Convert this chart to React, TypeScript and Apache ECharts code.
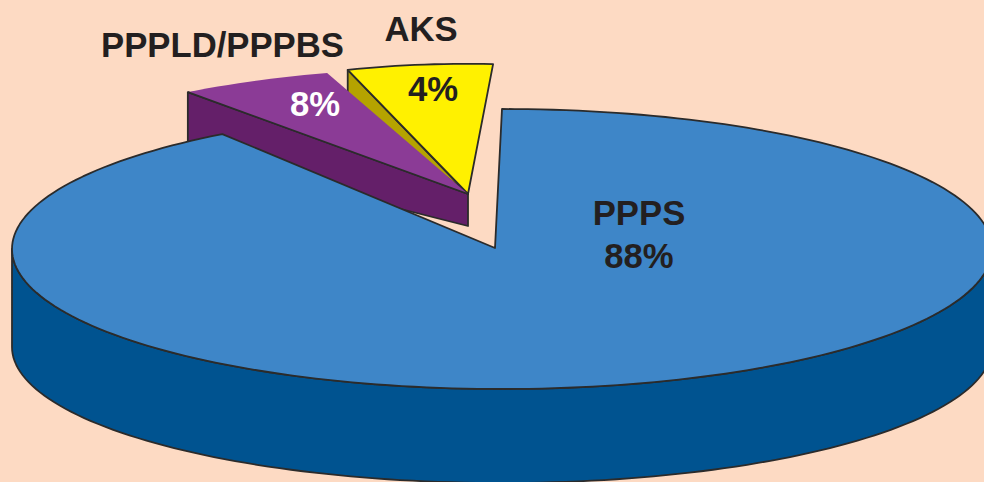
import React, { useEffect, useRef } from "react";
import * as echarts from "echarts";

// ---- chart data (drawn back to front) ----
const categories = ["AKS", "PPPLD/PPPBS", "PPPS"];
const shares = [4, 8, 88];

// ---- layout and styling of each slice ----
const W = 984;
const H = 482;
const FONT = '"Liberation Sans", Arial, sans-serif';
const INK = "#231F20";
const EDGE = "#2B2B2B";
const EDGE_WIDTH = 1.8;

type SliceLayout = {
  apex: [number, number];
  centre: [number, number];
  rx: number;
  ry: number;
  ryBottom: number;
  startDeg: number; // measured clockwise from the top of the ellipse
  perspective: number; // the source drawing distorts the sweep of each slice
  top: string;
  side: string;
  wall: "rim" | "radial";
  depthApex: number;
  depthRim: number;
  outline: "closed" | "radial";
  labels: { kind: "name" | "value"; x: number; y: number; fill: string }[];
};

const sliceLayouts: SliceLayout[] = [
  {
    apex: [468, 194],
    centre: [468, 194],
    rx: 400,
    ry: 130.2,
    ryBottom: 130.2,
    startDeg: -17.5,
    perspective: 1.465,
    top: "#FFF100",
    side: "#B5A300",
    wall: "radial",
    depthApex: 0,
    depthRim: 30,
    outline: "closed",
    labels: [
      { kind: "name", x: 421, y: 29, fill: INK },
      { kind: "value", x: 433, y: 89, fill: INK },
    ],
  },
  {
    apex: [468, 194],
    centre: [468, 194],
    rx: 471,
    ry: 126.8,
    ryBottom: 126.8,
    startDeg: -36.5,
    perspective: 0.663,
    top: "#8B3B96",
    side: "#641F69",
    wall: "radial",
    depthApex: 32,
    depthRim: 63,
    outline: "radial",
    labels: [
      { kind: "name", x: 222.5, y: 45, fill: INK },
      { kind: "value", x: 315, y: 104, fill: "#FFFFFF" },
    ],
  },
  {
    apex: [495, 248],
    centre: [502, 249],
    rx: 490,
    ry: 140,
    ryBottom: 136,
    startDeg: 0,
    perspective: 1.0265,
    top: "#3E86C8",
    side: "#005390",
    wall: "rim",
    depthApex: 98,
    depthRim: 98,
    outline: "closed",
    labels: [
      { kind: "name", x: 639, y: 213, fill: INK },
      { kind: "value", x: 639, y: 256, fill: INK },
    ],
  },
];

function rimPoint(s: SliceLayout, deg: number, dy = 0, ry = s.ry): [number, number] {
  const t = (deg * Math.PI) / 180;
  return [s.centre[0] + s.rx * Math.sin(t), s.centre[1] - ry * Math.cos(t) + dy];
}

function arc(s: SliceLayout, from: number, to: number, dy = 0, ry = s.ry) {
  const steps = Math.max(8, Math.ceil(Math.abs(to - from) / 1.5));
  const pts: [number, number][] = [];
  for (let i = 0; i <= steps; i++) pts.push(rimPoint(s, from + ((to - from) * i) / steps, dy, ry));
  return pts;
}

function renderSlice(params: any, api: any) {
  const s = sliceLayouts[params.dataIndex];
  const value = api.value(0) as number;
  const sweep = (value / 100) * 360 * s.perspective;
  const end = s.startDeg + sweep;
  const rim = arc(s, s.startDeg, end);
  const children: any[] = [];

  // side wall
  let wallPts: [number, number][];
  if (s.wall === "rim") {
    wallPts = [...arc(s, 90, 270), ...arc(s, 270, 90, s.depthRim, s.ryBottom)];
  } else {
    const p = rim[0];
    wallPts = [
      p,
      s.apex,
      [s.apex[0], s.apex[1] + s.depthApex],
      [p[0], p[1] + s.depthRim],
    ];
  }
  children.push({
    type: "polygon",
    shape: { points: wallPts },
    style: { fill: s.side, stroke: EDGE, lineWidth: EDGE_WIDTH, lineJoin: "round" },
  });

  // top face
  children.push({
    type: "polygon",
    shape: { points: [s.apex, ...rim] },
    style: {
      fill: s.top,
      stroke: s.outline === "closed" ? EDGE : null,
      lineWidth: EDGE_WIDTH,
      lineJoin: "round",
    },
  });
  if (s.outline === "radial") {
    children.push({
      type: "polyline",
      shape: { points: [rim[0], s.apex] },
      style: { fill: null, stroke: EDGE, lineWidth: EDGE_WIDTH },
    });
  }

  // labels
  for (const l of s.labels) {
    children.push({
      type: "text",
      style: {
        x: l.x,
        y: l.y,
        text: l.kind === "name" ? categories[params.dataIndex] : `${value}%`,
        fill: l.fill,
        font: `bold 34.7px ${FONT}`,
        textAlign: "center",
        textVerticalAlign: "middle",
      },
    });
  }
  return { type: "group", children };
}

export default function App() {
  const ref = useRef<HTMLDivElement>(null);
  useEffect(() => {
    document.body.style.margin = "0";
    const chart = echarts.init(ref.current!, undefined, { renderer: "svg" });
    chart.setOption({
      animation: false,
      backgroundColor: "#FDDAC3",
      series: [
        {
          type: "custom",
          coordinateSystem: "none",
          renderItem: renderSlice,
          silent: true,
          data: shares.map((v, i) => ({ name: categories[i], value: v })),
        },
      ],
    });
    return () => chart.dispose();
  }, []);
  return <div ref={ref} style={{ width: W, height: H }} />;
}
